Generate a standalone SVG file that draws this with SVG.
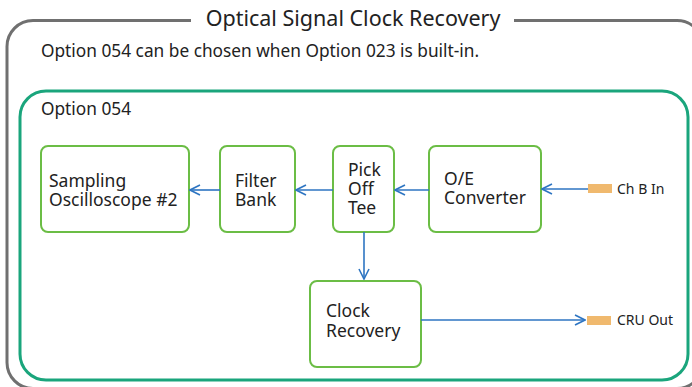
<svg xmlns="http://www.w3.org/2000/svg" width="692" height="387" viewBox="0 0 692 387">
<defs>
<style>
text{font-family:"Noto Sans","Open Sans","DejaVu Sans",sans-serif;fill:#222;}
.node{fill:#fff;stroke:#6bbd45;stroke-width:2;}
.conn{stroke:#2e75c2;stroke-width:1.6;fill:none;marker-end:url(#arr);}
.port{fill:#f0b96e;}
.t{font-size:17.5px;}
</style>
<marker id="arr" viewBox="0 0 12 12" refX="11" refY="6" markerWidth="12" markerHeight="12" markerUnits="userSpaceOnUse" orient="auto">
<path d="M1,1 L11,6 L1,11" fill="none" stroke="#2e75c2" stroke-width="1.6"/>
</marker>
</defs>
<rect x="7" y="20.5" width="696" height="368" rx="26" fill="#fff" stroke="#707070" stroke-width="3"/>
<rect x="191" y="8" width="323" height="24" fill="#fff"/>
<text x="353" y="26" font-size="21.5" text-anchor="middle">Optical Signal Clock Recovery</text>
<text x="41" y="57" font-size="17.3">Option 054 can be chosen when Option 023 is built-in.</text>
<rect x="20" y="91" width="668" height="289" rx="26" fill="#fff" stroke="#1aa57c" stroke-width="3"/>
<text x="41" y="115" font-size="17.3">Option 054</text>
<g id="sampling"><rect class="node" x="41" y="146" width="148" height="86" rx="7"/>
<text class="t" x="49" y="187">Sampling</text><text class="t" x="49" y="206">Oscilloscope #2</text></g>
<g id="filter"><rect class="node" x="220" y="146" width="75" height="86" rx="7"/>
<text class="t" x="235" y="187">Filter</text><text class="t" x="235" y="206">Bank</text></g>
<g id="pick"><rect class="node" x="333" y="146" width="61" height="86" rx="7"/>
<text class="t" x="348" y="176">Pick</text><text class="t" x="348" y="195">Off</text><text class="t" x="348" y="214">Tee</text></g>
<g id="oe"><rect class="node" x="429" y="146" width="112" height="86" rx="7"/>
<text class="t" x="444" y="185">O/E</text><text class="t" x="444" y="204">Converter</text></g>
<g id="clock"><rect class="node" x="310" y="281" width="111" height="86" rx="7"/>
<text class="t" x="326" y="317">Clock</text><text class="t" x="326" y="337">Recovery</text></g>
<g id="chb"><rect class="port" x="588" y="184" width="24" height="9"/><text x="617" y="194" font-size="14">Ch B In</text></g>
<g id="cru"><rect class="port" x="587" y="316" width="24" height="9"/><text x="617" y="325" font-size="14">CRU Out</text></g>
<g id="connectors">
<line class="conn" x1="588" y1="189" x2="542" y2="189"/>
<line class="conn" x1="429" y1="190" x2="395" y2="190"/>
<line class="conn" x1="333" y1="190" x2="296" y2="190"/>
<line class="conn" x1="220" y1="190" x2="190" y2="190"/>
<line class="conn" x1="364" y1="232" x2="364" y2="279"/>
<line class="conn" x1="421" y1="320" x2="585" y2="320"/>
</g>
</svg>
